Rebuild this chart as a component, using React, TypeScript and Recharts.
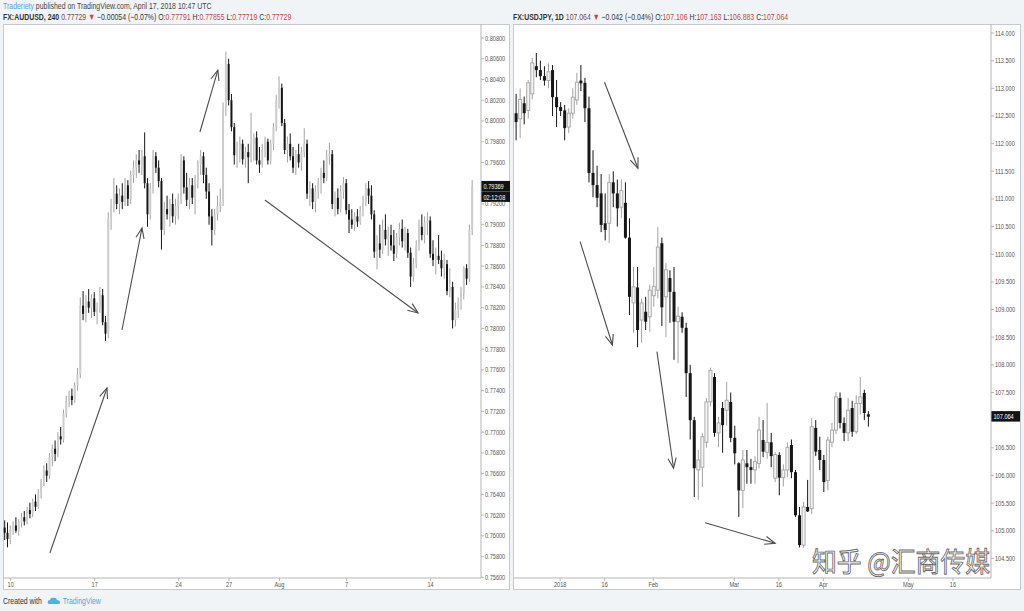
import { ComposedChart, Bar, XAxis, YAxis, ReferenceLine } from "recharts";

type Candle = [number, number, number, number]; // open, high, low, close

// FX:AUDUSD 240 - bar index 0 is the first 4h bar of the "10" tick
const audFirstBar = -2;
const audCandles: Candle[] = [
  [0.7608, 0.7615, 0.7596, 0.7603], [0.7603, 0.7613, 0.7589, 0.7597],
  [0.7597, 0.7610, 0.7592, 0.7606], [0.7606, 0.7614, 0.7601, 0.7610], [0.7610, 0.7618, 0.7603, 0.7605],
  [0.7605, 0.7616, 0.7600, 0.7613], [0.7613, 0.7622, 0.7608, 0.7618], [0.7618, 0.7624, 0.7610, 0.7614],
  [0.7614, 0.7628, 0.7611, 0.7625], [0.7625, 0.7632, 0.7617, 0.7621], [0.7621, 0.7636, 0.7618, 0.7633],
  [0.7633, 0.7640, 0.7624, 0.7628], [0.7628, 0.7645, 0.7626, 0.7642], [0.7642, 0.7655, 0.7636, 0.7652],
  [0.7652, 0.7668, 0.7648, 0.7663], [0.7663, 0.7670, 0.7652, 0.7658], [0.7658, 0.7680, 0.7655, 0.7676],
  [0.7676, 0.7688, 0.7667, 0.7684], [0.7684, 0.7692, 0.7672, 0.7679], [0.7679, 0.7700, 0.7676, 0.7696],
  [0.7696, 0.7705, 0.7688, 0.7693], [0.7693, 0.7722, 0.7690, 0.7718], [0.7718, 0.7735, 0.7714, 0.7730],
  [0.7730, 0.7740, 0.7724, 0.7735], [0.7735, 0.7742, 0.7726, 0.7731], [0.7731, 0.7748, 0.7728, 0.7745],
  [0.7745, 0.7762, 0.7740, 0.7756], [0.7756, 0.7830, 0.7752, 0.7822], [0.7822, 0.7836, 0.7808, 0.7814],
  [0.7814, 0.7832, 0.7806, 0.7826], [0.7826, 0.7838, 0.7815, 0.7820], [0.7820, 0.7833, 0.7810, 0.7829],
  [0.7829, 0.7835, 0.7812, 0.7816], [0.7816, 0.7825, 0.7804, 0.7820], [0.7820, 0.7840, 0.7815, 0.7832],
  [0.7832, 0.7838, 0.7803, 0.7806], [0.7806, 0.7812, 0.7788, 0.7795], [0.7795, 0.7912, 0.7791, 0.7906],
  [0.7906, 0.7925, 0.7895, 0.7918], [0.7918, 0.7945, 0.7912, 0.7930], [0.7930, 0.7938, 0.7915, 0.7920],
  [0.7920, 0.7935, 0.7910, 0.7928], [0.7928, 0.7940, 0.7915, 0.7922], [0.7922, 0.7945, 0.7918, 0.7938],
  [0.7938, 0.7943, 0.7918, 0.7925], [0.7925, 0.7952, 0.7920, 0.7948], [0.7948, 0.7962, 0.7940, 0.7955],
  [0.7955, 0.7968, 0.7945, 0.7962], [0.7962, 0.7972, 0.7950, 0.7958], [0.7958, 0.7972, 0.7948, 0.7966],
  [0.7966, 0.7989, 0.7935, 0.7940], [0.7940, 0.7945, 0.7898, 0.7910], [0.7910, 0.7940, 0.7905, 0.7935],
  [0.7935, 0.7972, 0.7930, 0.7966], [0.7966, 0.7970, 0.7950, 0.7955], [0.7955, 0.7962, 0.7936, 0.7942],
  [0.7942, 0.7945, 0.7876, 0.7895], [0.7895, 0.7922, 0.7890, 0.7915], [0.7915, 0.7928, 0.7905, 0.7910],
  [0.7910, 0.7925, 0.7898, 0.7920], [0.7920, 0.7930, 0.7902, 0.7908], [0.7908, 0.7925, 0.7900, 0.7918],
  [0.7918, 0.7930, 0.7905, 0.7925], [0.7925, 0.7968, 0.7920, 0.7962], [0.7962, 0.7966, 0.7930, 0.7936],
  [0.7936, 0.7950, 0.7918, 0.7924], [0.7924, 0.7945, 0.7915, 0.7938], [0.7938, 0.7945, 0.7920, 0.7926],
  [0.7926, 0.7948, 0.7910, 0.7942], [0.7942, 0.7962, 0.7935, 0.7958], [0.7958, 0.7972, 0.7948, 0.7966],
  [0.7966, 0.7970, 0.7940, 0.7948], [0.7948, 0.7955, 0.7925, 0.7932], [0.7932, 0.7940, 0.7900, 0.7908],
  [0.7908, 0.7915, 0.7880, 0.7895], [0.7895, 0.7915, 0.7890, 0.7910], [0.7910, 0.7928, 0.7904, 0.7918],
  [0.7918, 0.7935, 0.7912, 0.7922], [0.7922, 0.8018, 0.7918, 0.8013], [0.8013, 0.8067, 0.8005, 0.8055],
  [0.8055, 0.8060, 0.8015, 0.8020], [0.8020, 0.8026, 0.7990, 0.7994], [0.7994, 0.7998, 0.7958, 0.7967],
  [0.7967, 0.7980, 0.7955, 0.7972], [0.7972, 0.7985, 0.7960, 0.7978], [0.7978, 0.7982, 0.7958, 0.7963],
  [0.7963, 0.7975, 0.7955, 0.7970], [0.7970, 0.7978, 0.7940, 0.7965], [0.7965, 0.8008, 0.7960, 0.7978],
  [0.7978, 0.7988, 0.7962, 0.7984], [0.7984, 0.7990, 0.7958, 0.7962], [0.7962, 0.7975, 0.7950, 0.7958],
  [0.7958, 0.7978, 0.7955, 0.7972], [0.7972, 0.7985, 0.7965, 0.7980], [0.7980, 0.7983, 0.7958, 0.7962],
  [0.7962, 0.7982, 0.7958, 0.7978], [0.7978, 0.7998, 0.7972, 0.7994], [0.7994, 0.8025, 0.7990, 0.8020],
  [0.8020, 0.8043, 0.8012, 0.8032], [0.8032, 0.8036, 0.7995, 0.7998], [0.7998, 0.8002, 0.7968, 0.7972],
  [0.7972, 0.7985, 0.7960, 0.7978], [0.7978, 0.7988, 0.7962, 0.7966], [0.7966, 0.7975, 0.7950, 0.7955],
  [0.7955, 0.7972, 0.7948, 0.7968], [0.7968, 0.7978, 0.7955, 0.7960], [0.7960, 0.7975, 0.7952, 0.7970],
  [0.7970, 0.7993, 0.7965, 0.7978], [0.7978, 0.7982, 0.7925, 0.7930], [0.7930, 0.7942, 0.7918, 0.7935],
  [0.7935, 0.7940, 0.7915, 0.7922], [0.7922, 0.7938, 0.7912, 0.7932], [0.7932, 0.7945, 0.7925, 0.7940],
  [0.7940, 0.7955, 0.7930, 0.7950], [0.7950, 0.7962, 0.7940, 0.7945], [0.7945, 0.7972, 0.7942, 0.7966],
  [0.7966, 0.7979, 0.7958, 0.7968], [0.7968, 0.7972, 0.7915, 0.7920], [0.7920, 0.7932, 0.7908, 0.7926],
  [0.7926, 0.7935, 0.7910, 0.7915], [0.7915, 0.7938, 0.7912, 0.7932], [0.7932, 0.7946, 0.7925, 0.7940],
  [0.7940, 0.7944, 0.7910, 0.7914], [0.7914, 0.7920, 0.7892, 0.7905], [0.7905, 0.7915, 0.7896, 0.7900],
  [0.7900, 0.7912, 0.7894, 0.7908], [0.7908, 0.7915, 0.7898, 0.7903], [0.7903, 0.7918, 0.7900, 0.7914],
  [0.7914, 0.7928, 0.7908, 0.7922], [0.7922, 0.7940, 0.7918, 0.7935], [0.7935, 0.7942, 0.7920, 0.7928],
  [0.7928, 0.7938, 0.7905, 0.7910], [0.7910, 0.7914, 0.7868, 0.7874], [0.7874, 0.7890, 0.7857, 0.7882],
  [0.7882, 0.7900, 0.7868, 0.7876], [0.7876, 0.7905, 0.7872, 0.7895], [0.7895, 0.7910, 0.7880, 0.7886],
  [0.7886, 0.7898, 0.7870, 0.7890], [0.7890, 0.7900, 0.7875, 0.7880], [0.7880, 0.7895, 0.7865, 0.7872],
  [0.7872, 0.7892, 0.7868, 0.7888], [0.7888, 0.7902, 0.7880, 0.7896], [0.7896, 0.7905, 0.7878, 0.7884],
  [0.7884, 0.7898, 0.7875, 0.7892], [0.7892, 0.7896, 0.7868, 0.7873], [0.7873, 0.7878, 0.7840, 0.7850],
  [0.7850, 0.7868, 0.7845, 0.7862], [0.7862, 0.7885, 0.7858, 0.7880], [0.7880, 0.7905, 0.7875, 0.7898],
  [0.7898, 0.7910, 0.7885, 0.7890], [0.7890, 0.7908, 0.7882, 0.7902], [0.7902, 0.7912, 0.7890, 0.7904],
  [0.7904, 0.7908, 0.7868, 0.7872], [0.7872, 0.7885, 0.7860, 0.7866], [0.7866, 0.7878, 0.7852, 0.7870],
  [0.7870, 0.7890, 0.7862, 0.7866], [0.7866, 0.7875, 0.7850, 0.7858], [0.7858, 0.7872, 0.7848, 0.7862],
  [0.7862, 0.7866, 0.7832, 0.7836], [0.7836, 0.7858, 0.7830, 0.7840], [0.7840, 0.7845, 0.7800, 0.7808],
  [0.7808, 0.7825, 0.7802, 0.7818], [0.7818, 0.7830, 0.7810, 0.7826], [0.7826, 0.7840, 0.7818, 0.7834],
  [0.7834, 0.7860, 0.7828, 0.7858], [0.7858, 0.7862, 0.7842, 0.7848], [0.7848, 0.7900, 0.7845, 0.7895],
  [0.7895, 0.7943, 0.7890, 0.7937],
];
const audDateTicks = [0, 30, 60, 78, 96, 120, 150];
const audDateLabels = ["10", "17", "24", "27", "Aug", "7", "14"];
// 0.79400 sits under the last-price box, so it is not labelled
const audPriceTicks = [
  0.756, 0.758, 0.76, 0.762, 0.764, 0.766, 0.768, 0.77, 0.772, 0.774, 0.776, 0.778, 0.78, 0.782,
  0.784, 0.786, 0.788, 0.79, 0.792, 0.796, 0.798, 0.8, 0.802, 0.804, 0.806, 0.808,
];
const audLastPrice = 0.79369;
const audCountdown = "02:12:08";
// hand-drawn arrows: [bar, price] -> [bar, price]
const audArrows: [number, number][][] = [
  [[14.0, 0.75835], [34.4, 0.77426]],
  [[39.75, 0.77985], [46.9, 0.78968]],
  [[67.6, 0.79894], [74.0, 0.80491]],
  [[90.8, 0.79238], [145.5, 0.78149]],
];

// FX:USDJPY 1D - bar index 0 is the first daily bar of 2018
const jpyFirstBar = -11;
const jpyCandles: Candle[] = [
  [112.55, 112.90, 112.06, 112.39], [112.45, 113.00, 112.10, 112.80], [112.73, 112.85, 112.35, 112.55],
  [112.60, 113.15, 112.45, 113.10], [112.90, 113.55, 112.80, 113.46], [113.40, 113.64, 113.20, 113.33],
  [113.33, 113.50, 113.15, 113.22], [113.22, 113.40, 113.05, 113.14], [113.14, 113.45, 113.00, 113.30],
  [113.33, 113.42, 112.50, 112.84], [112.84, 113.15, 112.30, 112.66], [112.66, 112.75, 112.50, 112.59],
  [112.60, 112.70, 112.06, 112.28], [112.30, 112.64, 112.19, 112.55], [112.55, 113.00, 112.45, 112.84],
  [112.79, 113.28, 112.70, 113.11], [113.14, 113.42, 112.95, 113.09], [113.10, 113.19, 112.39, 112.64],
  [112.64, 112.85, 111.30, 111.47], [111.47, 111.88, 111.03, 111.25], [111.25, 111.60, 110.85, 111.02],
  [111.10, 111.45, 110.40, 110.53], [110.56, 111.10, 110.25, 110.44], [110.56, 111.45, 110.20, 111.30],
  [111.30, 111.50, 110.85, 111.10], [111.10, 111.35, 110.50, 110.83], [110.85, 111.35, 110.65, 111.15],
  [110.93, 111.30, 110.28, 110.30], [110.30, 110.65, 108.90, 109.23], [109.12, 109.77, 108.58, 109.41],
  [109.40, 109.77, 108.32, 108.63], [108.81, 109.20, 108.40, 109.12], [108.96, 109.23, 108.63, 108.78],
  [108.87, 109.45, 108.60, 109.35], [109.25, 109.77, 109.05, 109.42], [109.35, 110.49, 109.20, 110.13],
  [110.20, 110.30, 108.70, 109.04], [109.23, 109.84, 108.50, 109.72], [109.57, 109.71, 108.76, 109.32],
  [109.32, 109.77, 108.09, 108.78], [108.78, 109.05, 108.03, 108.88], [108.87, 108.95, 108.58, 108.67],
  [108.67, 108.76, 107.42, 107.85], [107.85, 108.00, 106.65, 107.00], [107.00, 107.06, 105.61, 106.13],
  [106.10, 106.46, 105.56, 106.28], [106.15, 106.77, 105.79, 106.70], [106.60, 107.40, 106.50, 107.33],
  [107.33, 107.95, 107.25, 107.90], [107.78, 107.85, 106.70, 106.77], [106.77, 107.06, 106.51, 106.95],
  [107.22, 107.33, 106.41, 106.91], [107.18, 107.69, 106.90, 107.36], [107.33, 107.50, 106.60, 106.68],
  [106.68, 106.90, 106.20, 106.40], [106.22, 106.24, 105.25, 105.73], [105.73, 106.46, 105.41, 106.28],
  [106.22, 106.46, 105.85, 106.15], [106.15, 106.30, 105.85, 106.10], [106.10, 106.35, 105.85, 106.25],
  [106.22, 107.06, 106.13, 106.82], [106.64, 107.00, 106.33, 106.43], [106.42, 107.31, 106.30, 106.60],
  [106.60, 106.77, 106.15, 106.35], [105.95, 106.42, 105.88, 106.38], [106.37, 106.42, 105.64, 105.96],
  [105.96, 106.20, 105.80, 106.10], [106.10, 106.60, 105.97, 106.51], [106.55, 106.65, 105.95, 106.06],
  [106.06, 106.10, 105.25, 105.28], [105.28, 105.43, 104.70, 104.74], [104.74, 105.52, 104.69, 105.43],
  [105.43, 105.92, 105.34, 105.35], [105.40, 107.04, 105.30, 106.88], [106.86, 107.00, 106.35, 106.43],
  [106.46, 106.70, 106.10, 106.28], [106.28, 106.37, 105.70, 105.88], [105.91, 106.70, 105.73, 106.64],
  [106.60, 106.95, 106.51, 106.82], [106.82, 107.51, 106.75, 107.42], [107.40, 107.50, 106.85, 106.95],
  [106.95, 107.05, 106.62, 106.77], [106.77, 107.40, 106.62, 107.18], [107.22, 107.35, 106.70, 106.79],
  [106.79, 107.45, 106.75, 107.30], [107.30, 107.78, 107.10, 107.42], [107.49, 107.55, 107.00, 107.13],
  [107.106, 107.163, 106.883, 107.064],
];
const jpyDateTicks = [0, 11, 23, 43, 54, 65, 86, 97];
const jpyDateLabels = ["2018", "16", "Feb", "Mar", "16", "Apr", "May", "16"];
// 107.000 sits under the last-price box, so it is not labelled
const jpyPriceTicks = [
  104.5, 105, 105.5, 106, 106.5, 107.5, 108, 108.5, 109, 109.5, 110, 110.5, 111, 111.5,
  112, 112.5, 113, 113.5, 114,
];
const jpyLastPrice = 107.064;
const jpyArrows: [number, number][][] = [
  [[10.95, 113.109], [19.2, 111.554]],
  [[4.94, 110.227], [12.9, 108.359]],
  [[23.9, 108.238], [28.0, 106.13]],
  [[35.8, 105.146], [53.1, 104.774]],
];

const font = "'Liberation Sans', Arial, sans-serif";

function buildRows(candles: Candle[], first: number) {
  return candles.map(([o, h, l, c], k) => ({ t: first + k, o, h, l, c, range: [l, h] }));
}

// wick + body inside the high/low range bar
function CandleShape(props: any) {
  const { x, y, width, height, payload, bodyWidth, hollow } = props;
  if (!payload || typeof y !== "number") return null;
  const { o, h, l, c } = payload;
  const span = h - l || 1e-9;
  const py = (v: number) => y + ((h - v) / span) * height;
  const cx = x + width / 2;
  const up = c >= o;
  const top = py(Math.max(o, c));
  const bh = Math.max(1, py(Math.min(o, c)) - top);
  const dark = "#161616";
  const grey = "#a3a3a3";
  return (
    <g>
      <line x1={cx} x2={cx} y1={y} y2={y + height} stroke={up ? grey : dark} strokeWidth={1} />
      {up && hollow ? (
        <rect x={cx - bodyWidth / 2} y={top} width={bodyWidth} height={bh} fill="#f4f4f4" stroke={grey} strokeWidth={0.9} />
      ) : (
        <rect x={cx - bodyWidth / 2} y={top} width={bodyWidth} height={bh} fill={up ? "#cdcdcd" : dark} />
      )}
    </g>
  );
}

function ArrowShape(props: any) {
  const { x1, y1, x2, y2 } = props;
  if ([x1, y1, x2, y2].some((v) => typeof v !== "number" || isNaN(v))) return null;
  const a = Math.atan2(y2 - y1, x2 - x1);
  const len = 11;
  const s = 0.38;
  const ax = x2 - len * Math.cos(a - s);
  const ay = y2 - len * Math.sin(a - s);
  const bx = x2 - len * Math.cos(a + s);
  const by = y2 - len * Math.sin(a + s);
  return (
    <g>
      <line x1={x1} y1={y1} x2={x2} y2={y2} stroke="#4d4d4d" strokeWidth={1.1} />
      <polyline points={`${ax},${ay} ${x2},${y2} ${bx},${by}`} fill="none" stroke="#4d4d4d" strokeWidth={1.1} />
    </g>
  );
}

function PriceTick(props: any) {
  const { x, y, payload, digits } = props;
  return (
    <g transform={`translate(${x},${y})`}>
      <text x={0} y={0} dy={2.5} fontSize={7} fill="#555" fontFamily={font} transform="scale(0.8,1)">
        {Number(payload.value).toFixed(digits)}
      </text>
    </g>
  );
}

function DateTick(props: any) {
  const { x, y, payload, ticks, labels } = props;
  return (
    <g transform={`translate(${x},${y})`}>
      <text x={0} y={0} dy={4.5} fontSize={7} fill="#555" fontFamily={font} textAnchor="middle" transform="scale(0.8,1)">
        {labels[ticks.indexOf(payload.value)]}
      </text>
    </g>
  );
}

function LastPriceLabel(props: any) {
  const { viewBox, lines } = props;
  if (!viewBox) return null;
  const x = viewBox.x + viewBox.width;
  const y = viewBox.y;
  return (
    <g>
      {lines.map((txt: string, k: number) => (
        <g key={k}>
          <rect x={x} y={y - 5.5 + k * 10.5} width={29} height={10.5} fill="#131313" />
          <g transform={`translate(${x + 2.5},${y + 2.6 + k * 10.5})`}>
            <text fontSize={7} fill="#fff" fontFamily={font} transform="scale(0.8,1)">{txt}</text>
          </g>
        </g>
      ))}
    </g>
  );
}

function CandlePanel(props: any) {
  const { rows, xDomain, yDomain, dateTicks, dateLabels, priceTicks, digits, lastPrice, lastLines, arrows, bodyWidth, hollow, width } = props;
  return (
    <ComposedChart width={width} height={590} data={rows} margin={{ top: 24, right: 0, bottom: 0, left: 3 }}>
      <XAxis
        type="number"
        dataKey="t"
        domain={xDomain}
        allowDataOverflow
        ticks={dateTicks}
        interval={0}
        height={12}
        tickSize={3}
        tickMargin={1}
        stroke="#b5b5b5"
        tick={<DateTick ticks={dateTicks} labels={dateLabels} />}
      />
      <YAxis
        orientation="right"
        domain={yDomain}
        allowDataOverflow
        ticks={priceTicks}
        interval={0}
        width={31}
        tickSize={3}
        tickMargin={1}
        stroke="#b5b5b5"
        tick={<PriceTick digits={digits} />}
      />
      <Bar dataKey="range" barSize={bodyWidth} isAnimationActive={false} shape={<CandleShape bodyWidth={bodyWidth} hollow={hollow} />} />
      {arrows.map((seg: [number, number][], k: number) => (
        <ReferenceLine
          key={k}
          segment={[{ x: seg[0][0], y: seg[0][1] }, { x: seg[1][0], y: seg[1][1] }]}
          ifOverflow="visible"
          shape={<ArrowShape />}
        />
      ))}
      <ReferenceLine y={lastPrice} stroke="none" label={<LastPriceLabel lines={lastLines} />} />
    </ComposedChart>
  );
}

const headerText = { fontSize: 9, fontFamily: font, whiteSpace: "nowrap" as const, transform: "scaleX(0.77)", transformOrigin: "left top", lineHeight: "10px" };
const red = "#c24848";

export default function App() {
  const audRows = buildRows(audCandles, audFirstBar);
  const jpyRows = buildRows(jpyCandles, jpyFirstBar);
  return (
    <div style={{ position: "absolute", left: 0, top: 0, width: 1024, height: 611, background: "#f1f4f7", overflow: "hidden" }}>
      <div style={{ position: "absolute", left: 3, top: 1, ...headerText, color: "#444" }}>
        <span style={{ color: "#5aa0d8" }}>Traderiety</span> published on TradingView.com, April 17, 2018 10:47 UTC
      </div>
      <div style={{ position: "absolute", left: 3, top: 12, ...headerText, color: "#333" }}>
        <b>FX:AUDUSD, 240</b> <span style={{ color: "#7a4b4b" }}>0.77729</span> <span style={{ color: red }}>▼</span> −0.00054 (−0.07%){" "}
        O:<span style={{ color: red }}>0.77791</span> H:<span style={{ color: red }}>0.77855</span> L:<span style={{ color: red }}>0.77719</span>{" "}
        C:<span style={{ color: red }}>0.77729</span>
      </div>
      <div style={{ position: "absolute", left: 513, top: 12, ...headerText, color: "#333" }}>
        <b>FX:USDJPY, 1D</b> <span style={{ color: "#7a4b4b" }}>107.064</span> <span style={{ color: red }}>▼</span> −0.042 (−0.04%){" "}
        O:<span style={{ color: red }}>107.106</span> H:<span style={{ color: red }}>107.163</span> L:<span style={{ color: red }}>106.883</span>{" "}
        C:<span style={{ color: red }}>107.064</span>
      </div>

      <div style={{ position: "absolute", left: 3, top: 24, width: 507, height: 566, background: "#fff", border: "1px solid #c6c9ce", boxSizing: "border-box" }} />
      <div style={{ position: "absolute", left: 513, top: 24, width: 508, height: 566, background: "#fff", border: "1px solid #c6c9ce", boxSizing: "border-box" }} />

      <div style={{ position: "absolute", left: 0, top: 0 }}>
        <CandlePanel
          width={512}
          rows={audRows}
          xDomain={[-2.75, 168]}
          yDomain={[0.75594, 0.80935]}
          dateTicks={audDateTicks}
          dateLabels={audDateLabels}
          priceTicks={audPriceTicks}
          digits={5}
          lastPrice={audLastPrice}
          lastLines={[audLastPrice.toFixed(5), audCountdown]}
          arrows={audArrows}
          bodyWidth={2}
          hollow={false}
        />
      </div>
      <div style={{ position: "absolute", left: 511, top: 0 }}>
        <CandlePanel
          width={511}
          rows={jpyRows}
          xDomain={[-11.4, 106.4]}
          yDomain={[104.146, 114.163]}
          dateTicks={jpyDateTicks}
          dateLabels={jpyDateLabels}
          priceTicks={jpyPriceTicks}
          digits={3}
          lastPrice={jpyLastPrice}
          lastLines={[jpyLastPrice.toFixed(3)]}
          arrows={jpyArrows}
          bodyWidth={3}
          hollow={true}
        />
      </div>

      <div
        style={{
          position: "absolute",
          left: 812,
          top: 548,
          fontSize: 27,
          lineHeight: "26px",
          height: 26,
          fontFamily: "'Noto Sans CJK SC', sans-serif",
          color: "rgba(255,255,255,0.92)",
          WebkitTextStroke: "0.9px #6a6a6a",
          whiteSpace: "nowrap",
          transform: "scaleX(0.92)",
          transformOrigin: "left top",
        }}
      >
        知乎 @汇商传媒
      </div>

      <div style={{ position: "absolute", left: 3, top: 596, ...headerText, color: "#333", display: "flex", alignItems: "center" }}>
        <span>Created with</span>
        <svg width={18} height={10} style={{ margin: "0 3px 0 6px" }}>
          <path d="M3 8 Q1 8 1 6 Q1 4 4 4 Q5 1 9 2 Q12 1 13 4 Q17 4 17 6.5 Q17 8 15 8 Z" fill="#4bb3e3" />
        </svg>
        <span style={{ color: "#4aa6d8" }}>TradingView</span>
      </div>
    </div>
  );
}
